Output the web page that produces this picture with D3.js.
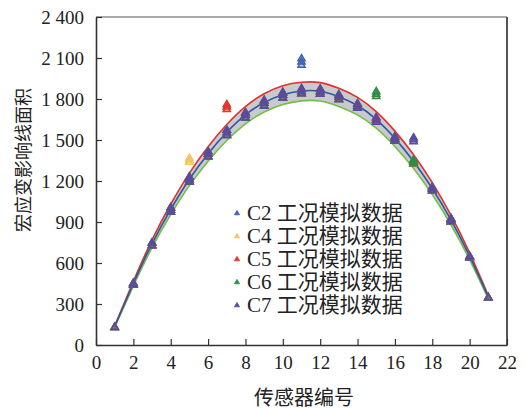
<!DOCTYPE html>
<html><head><meta charset="utf-8">
<script src="https://cdn.jsdelivr.net/npm/d3@7"></script>
<style>
html,body{margin:0;padding:0;background:#fff;}
text{font-family:"Liberation Serif","Noto Sans CJK SC",serif;fill:#222;}
</style></head>
<body><svg id="chart" width="526" height="409"></svg>
<script>
// ---- data ----
const sensors = [1,2,3,4,5,6,7,8,9,10,11,12,13,14,15,16,17,18,19,20,21];
const xTicks = [0,2,4,6,8,10,12,14,16,18,20,22];
const yTicks = [0,300,600,900,1200,1500,1800,2100,2400];
// fitted curves
const fitMean  = [135, 450, 742, 993, 1213, 1400, 1557, 1684, 1774, 1831, 1858, 1857, 1817, 1752, 1651, 1512, 1343, 1145, 916, 650, 350];
const fitUpper = [140, 466, 770, 1030, 1258, 1451, 1614, 1745, 1838, 1897, 1922, 1920, 1878, 1812, 1708, 1565, 1392, 1188, 950, 674, 362];
const fitLower = [130, 432, 713, 955, 1166, 1345, 1496, 1618, 1705, 1760, 1786, 1785, 1746, 1684, 1587, 1453, 1291, 1101, 880, 625, 337];
// simulated samples on the curve (per sensor)
const curveSamples = [[133],[443,455],[730,750],[975,992,1008],[1197,1215,1232],[1382,1400,1418],[1538,1557,1575],[1665,1685,1703],[1754,1773,1792],[1812,1831,1850],[1842,1860,1878],[1840,1858,1875],[1800,1817,1834],[1736,1752,1768],[1634,1651,1667],[1497,1512,1527],[1330,1343,1356],[1133,1145,1157],[906,917,928],[643,652],[350]];
// outlying samples per case
const seriesNames = ["C2 工况模拟数据","C4 工况模拟数据","C5 工况模拟数据","C6 工况模拟数据","C7 工况模拟数据"];
const seriesColors = ["#3d62ad","#f1c36a","#e2332f","#2e8c43","#5b4aa0"];
const outlierSensor = [11, 5, 7, 15, 17];
const outlierValues = [[2052,2075,2098],[1342,1356,1370],[1727,1745,1763],[1822,1840,1858],[1492,1506,1520]];

// ---- layout ----
const svg = d3.select("#chart");
const L = 96, R = 507, T = 17, B = 345;
const x = d3.scaleLinear().domain([0,22]).range([L,R]);
const y = d3.scaleLinear().domain([0,2400]).range([B,T]);

// band
const band = d3.area().x((d,i)=>x(sensors[i])).y0((d,i)=>y(fitLower[i])).y1((d,i)=>y(fitUpper[i])).curve(d3.curveNatural);
svg.append("path").datum(sensors).attr("d",band).attr("fill","#c8cace");
const line = arr => d3.line().x((d,i)=>x(sensors[i])).y(d=>y(d)).curve(d3.curveNatural)(arr);
svg.append("path").attr("d",line(fitLower)).attr("fill","none").attr("stroke","#72bf44").attr("stroke-width",1.6);
svg.append("path").attr("d",line(fitUpper)).attr("fill","none").attr("stroke","#e4302b").attr("stroke-width",1.6);
svg.append("path").attr("d",line(fitMean)).attr("fill","none").attr("stroke","#2d56a6").attr("stroke-width",1.6);

// markers
const tri = "M0,-3.6L3.6,2.6L-3.6,2.6Z";
seriesNames.forEach((name,si)=>{
  const g = svg.append("g");
  sensors.forEach((s,i)=>{
    const vals = (s===outlierSensor[si]) ? outlierValues[si] : curveSamples[i];
    vals.forEach(v=>{
      g.append("path").attr("d",tri)
        .attr("transform",`translate(${x(s)},${y(v)})`)
        .attr("fill",seriesColors[si]).attr("fill-opacity",0.35)
        .attr("stroke",seriesColors[si]).attr("stroke-width",1.5);
    });
  });
});

// frame
svg.append("line").attr("x1",L).attr("x2",R).attr("y1",T).attr("y2",T).attr("stroke","#555").attr("stroke-width",1.2);
svg.append("line").attr("x1",R).attr("x2",R).attr("y1",T).attr("y2",B).attr("stroke","#555").attr("stroke-width",2);

// axes
const fmt = v => d3.format(",")(v).replace(/,/g," ");
const xAxis = svg.append("g").attr("transform",`translate(0,${B})`)
  .call(d3.axisBottom(x).tickValues(xTicks).tickSizeInner(-6).tickSizeOuter(0).tickPadding(11));
const yAxis = svg.append("g").attr("transform",`translate(${L},0)`)
  .call(d3.axisLeft(y).tickValues(yTicks).tickFormat(fmt).tickSizeInner(-6).tickSizeOuter(0).tickPadding(12));
[xAxis,yAxis].forEach(a=>{
  a.select(".domain").attr("stroke","#333").attr("stroke-width",1.6);
  a.selectAll(".tick line").attr("stroke","#333").attr("stroke-width",1.2);
  a.selectAll(".tick text").attr("fill","#222").style("font-family","Liberation Serif").style("font-size","19px");
});
xAxis.selectAll(".tick text").attr("dy","0.71em");

// titles
svg.append("text").attr("x",304).attr("y",405).attr("text-anchor","middle").style("font-size","20px").text("传感器编号");
svg.append("text").attr("transform","translate(30,160) rotate(-90)").attr("text-anchor","middle").style("font-size","18px").text("宏应变影响线面积");

// legend
const lg = svg.append("g");
seriesNames.forEach((name,i)=>{
  const yy = 213 + i*23;
  lg.append("path").attr("d","M0,-2.6L2.6,1.8L-2.6,1.8Z").attr("transform",`translate(237,${yy})`)
    .attr("fill",seriesColors[i]).attr("stroke",seriesColors[i]).attr("stroke-width",0.8);
  lg.append("text").attr("x",247).attr("y",yy).attr("dy","0.35em").style("font-size","21px").text(name);
});
</script></body></html>
